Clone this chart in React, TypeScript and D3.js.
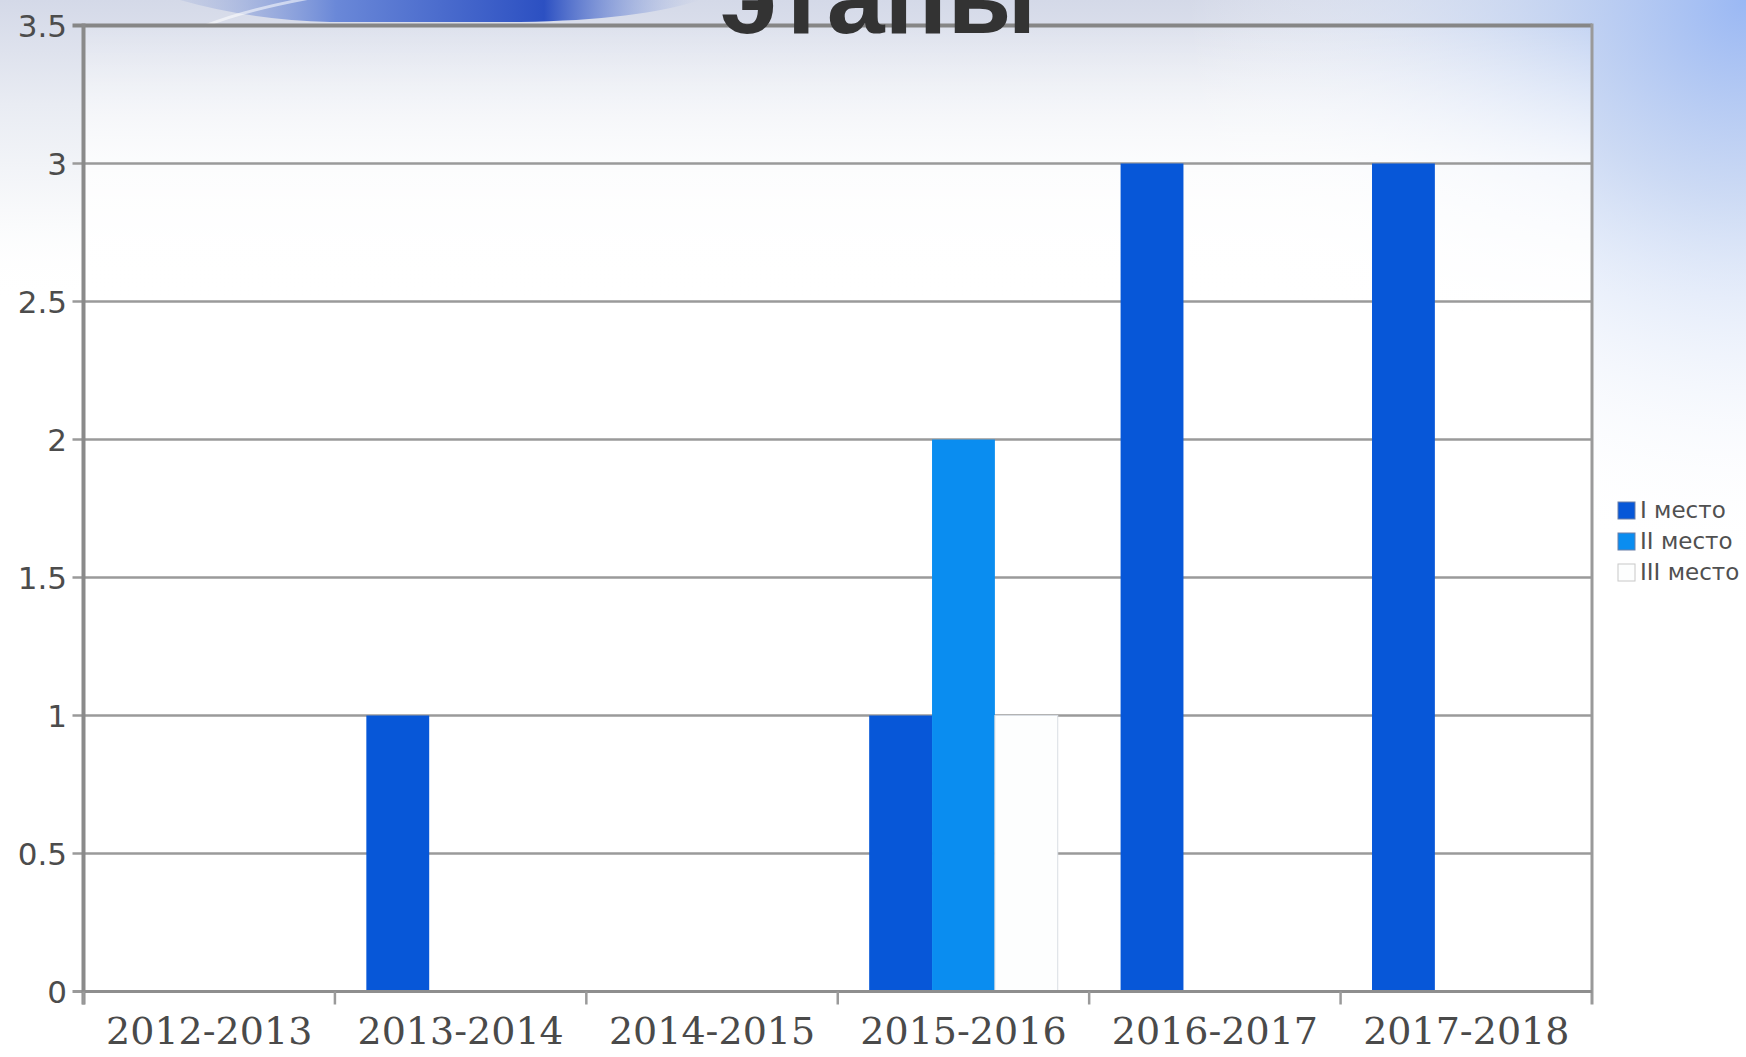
import React from "react";
import * as d3 from "d3";

const categories = ["2012-2013", "2013-2014", "2014-2015", "2015-2016", "2016-2017", "2017-2018"];
const seriesNames = ["I место", "II место", "III место"];
const place1 = [0, 1, 0, 1, 3, 3];
const place2 = [0, 0, 0, 2, 0, 0];
const place3 = [0, 0, 0, 1, 0, 0];
const yTicks = [0, 0.5, 1, 1.5, 2, 2.5, 3, 3.5];
const title = "этапы";

const seriesValues = [place1, place2, place3];
const colors = ["#0757d8", "#0a8df0", "#fdfefe"];

const W = 1746;
const H = 1057;
const left = 83.5;
const right = 1592;
const top = 25.5;
const bottom = 991.5;

export default function App() {
  const x0 = d3.scaleBand<string>().domain(categories).range([left, right]).paddingInner(0).paddingOuter(0);
  const bw = x0.bandwidth();
  const x1 = d3.scaleBand<string>().domain(seriesNames).range([bw * 0.125, bw * 0.875]).padding(0);
  const y = d3.scaleLinear().domain([0, 3.5]).range([bottom, top]);

  return (
    <svg width={W} height={H} style={{ position: "absolute", left: 0, top: 0 }}>
      <defs>
        <linearGradient id="topfade" x1="0" y1="0" x2="0" y2="1">
          <stop offset="0" stopColor="#d4d9e8" />
          <stop offset="0.35" stopColor="#e9ecf3" />
          <stop offset="0.75" stopColor="#fafbfc" />
          <stop offset="1" stopColor="#ffffff" stopOpacity="0" />
        </linearGradient>
        <radialGradient id="tr" cx={W} cy={0} r={560} gradientUnits="userSpaceOnUse">
          <stop offset="0" stopColor="#9ab8f4" />
          <stop offset="0.35" stopColor="#c2d3f3" stopOpacity="0.8" />
          <stop offset="1" stopColor="#ffffff" stopOpacity="0" />
        </radialGradient>
        <linearGradient id="swoosh" x1="0" y1="0" x2="1" y2="0">
          <stop offset="0" stopColor="#a8b6dc" stopOpacity="0.3" />
          <stop offset="0.3" stopColor="#6a88d8" />
          <stop offset="0.7" stopColor="#2c50c2" />
          <stop offset="1" stopColor="#9ab0e4" stopOpacity="0" />
        </linearGradient>
        <linearGradient id="plotfade" x1="0" y1="0" x2="0" y2="1">
          <stop offset="0" stopColor="#ffffff" stopOpacity="0.1" />
          <stop offset="0.14" stopColor="#ffffff" stopOpacity="0.75" />
          <stop offset="0.3" stopColor="#ffffff" stopOpacity="1" />
          <stop offset="1" stopColor="#ffffff" stopOpacity="1" />
        </linearGradient>
      </defs>

      {/* background */}
      <rect x={0} y={0} width={W} height={H} fill="#ffffff" />
      <rect x={0} y={0} width={W} height={300} fill="url(#topfade)" />
      <rect x={1000} y={0} width={W - 1000} height={620} fill="url(#tr)" />
      <path d="M 180 0 L 700 0 Q 640 20 520 22 L 330 22 Q 250 20 180 0 Z" fill="url(#swoosh)" />
      <path d="M 205 26 Q 245 10 310 -2" fill="none" stroke="#ffffff" strokeOpacity="0.55" strokeWidth={3} />

      {/* plot area fill */}
      <rect x={left} y={top} width={right - left} height={bottom - top} fill="url(#plotfade)" />

      {/* gridlines */}
      {yTicks.map((t) => (
        <line
          key={"g" + t}
          x1={left - 11}
          x2={right}
          y1={y(t)}
          y2={y(t)}
          stroke={t === 3.5 ? "#868686" : "#9a9a9a"}
          strokeWidth={t === 3.5 ? 4 : t === 0 ? 3 : 2.5}
        />
      ))}

      {/* bars */}
      {categories.map((c, ci) => (
        <g key={c} transform={`translate(${x0(c)},0)`}>
          {seriesNames.map((s, si) => {
            const v = seriesValues[si][ci];
            if (v <= 0) return null;
            return (
              <rect
                key={s}
                x={x1(s)}
                y={y(v)}
                width={x1.bandwidth()}
                height={y(0) - y(v)}
                fill={colors[si]}
                stroke={si === 2 ? "#d8dde3" : "none"}
                strokeWidth={si === 2 ? 1 : 0}
              />
            );
          })}
        </g>
      ))}

      {/* axes */}
      <line x1={left} x2={left} y1={top - 2} y2={bottom + 13} stroke="#8a8a8a" strokeWidth={4} />
      <line x1={right} x2={right} y1={top - 2} y2={bottom + 13} stroke="#9a9a9a" strokeWidth={3} />
      <line x1={left} x2={right} y1={bottom} y2={bottom} stroke="#8e8e8e" strokeWidth={3} />
      {categories.map((c) => (
        <line key={"t" + c} x1={x0(c)!} x2={x0(c)!} y1={bottom} y2={bottom + 13} stroke="#9a9a9a" strokeWidth={2.5} />
      ))}

      {/* y labels */}
      {yTicks.map((t) => (
        <text
          key={"yl" + t}
          x={67}
          y={y(t) + 11}
          textAnchor="end"
          fontFamily="DejaVu Sans, sans-serif"
          fontSize={31}
          fill="#4c4c4c"
        >
          {String(t)}
        </text>
      ))}

      {/* x labels */}
      {categories.map((c) => (
        <text
          key={"xl" + c}
          x={x0(c)! + bw / 2}
          y={1044}
          textAnchor="middle"
          fontFamily="DejaVu Serif, serif"
          fontSize={38}
          fill="#4a4a4a"
        >
          {c}
        </text>
      ))}

      {/* legend */}
      {seriesNames.map((s, i) => (
        <g key={"lg" + s} transform={`translate(1618,${502 + i * 31})`}>
          <rect x={0} y={0} width={17} height={17} fill={colors[i]} stroke={i === 2 ? "#c8c8c8" : "#6a7fa8"} strokeWidth={1} />
          <text x={22} y={16} fontFamily="DejaVu Sans, sans-serif" fontSize={23} fill="#505050">
            {s}
          </text>
        </g>
      ))}

      {/* title */}
      <text
        x={878}
        y={33}
        textAnchor="middle"
        fontFamily="Liberation Sans, Arial, sans-serif"
        fontWeight="bold"
        fontSize={104}
        fill="#333333"
      >
        {title}
      </text>
    </svg>
  );
}
